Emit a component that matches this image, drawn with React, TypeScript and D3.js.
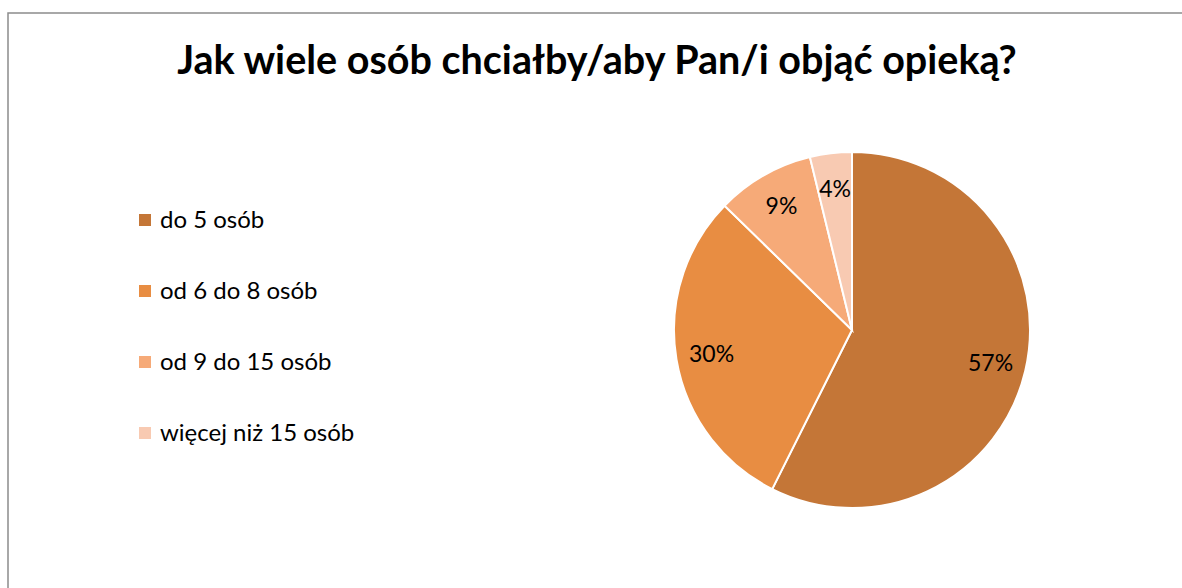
import React, { useEffect, useRef } from 'react';
import * as d3 from 'd3';

const categories = ['do 5 osób', 'od 6 do 8 osób', 'od 9 do 15 osób', 'więcej niż 15 osób'];
const shares = [57.4, 29.9, 8.9, 3.8];
const colors = ['#C47637', '#E88D42', '#F6AA78', '#F8CAB2'];
const title = 'Jak wiele osób chciałby/aby Pan/i objąć opieką?';

const App = () => {
  const svgRef = useRef<SVGSVGElement>(null);

  useEffect(() => {
    const svg = d3.select(svgRef.current);
    svg.selectAll('*').remove();

    const width = 1182;
    const height = 588;
    const font = 'Lato, "Open Sans", sans-serif';

    svg.append('rect')
      .attr('width', width)
      .attr('height', height)
      .attr('fill', '#fff');

    // chart frame (cropped on the right and bottom)
    svg.append('rect')
      .attr('x', 8)
      .attr('y', 13)
      .attr('width', width + 10)
      .attr('height', height + 10)
      .attr('fill', 'none')
      .attr('stroke', '#8c8c8c')
      .attr('stroke-width', 1.5);

    svg.append('text')
      .attr('x', 597)
      .attr('y', 74)
      .attr('text-anchor', 'middle')
      .attr('font-family', font)
      .attr('font-weight', 'bold')
      .attr('font-size', 39.5)
      .attr('fill', '#000')
      .text(title);

    // legend
    const legendY = d3.scalePoint<string>()
      .domain(categories)
      .range([220, 433]);

    const legend = svg.append('g');
    legend.selectAll('rect')
      .data(categories)
      .join('rect')
      .attr('x', 139)
      .attr('y', d => (legendY(d) as number) - 6)
      .attr('width', 12)
      .attr('height', 12)
      .attr('fill', (d, i) => colors[i]);

    legend.selectAll('text')
      .data(categories)
      .join('text')
      .attr('x', 160)
      .attr('y', d => legendY(d) as number)
      .attr('dy', '0.35em')
      .attr('font-family', font)
      .attr('font-size', 24)
      .attr('fill', '#000')
      .text(d => d);

    // pie
    const cx = 852;
    const cy = 330;
    const r = 178;

    const pie = d3.pie<number>().sort(null).value(d => d);
    const arcs = pie(shares);
    const arc = d3.arc<d3.PieArcDatum<number>>().innerRadius(0).outerRadius(r);
    const labelArc = d3.arc<d3.PieArcDatum<number>>().innerRadius(r * 0.8).outerRadius(r * 0.8);

    const g = svg.append('g').attr('transform', `translate(${cx},${cy})`);
    g.selectAll('path')
      .data(arcs)
      .join('path')
      .attr('d', arc)
      .attr('fill', (d, i) => colors[i])
      .attr('stroke', '#fff')
      .attr('stroke-width', 2);

    g.selectAll('text')
      .data(arcs)
      .join('text')
      .attr('transform', d => `translate(${labelArc.centroid(d)})`)
      .attr('text-anchor', 'middle')
      .attr('dy', '0.35em')
      .attr('font-family', font)
      .attr('font-size', 23)
      .attr('fill', '#000')
      .text(d => `${Math.round(d.data)}%`);
  }, []);

  return (
    <svg
      ref={svgRef}
      width={1182}
      height={588}
      style={{ position: 'absolute', left: 0, top: 0, display: 'block' }}
    />
  );
};

export default App;
